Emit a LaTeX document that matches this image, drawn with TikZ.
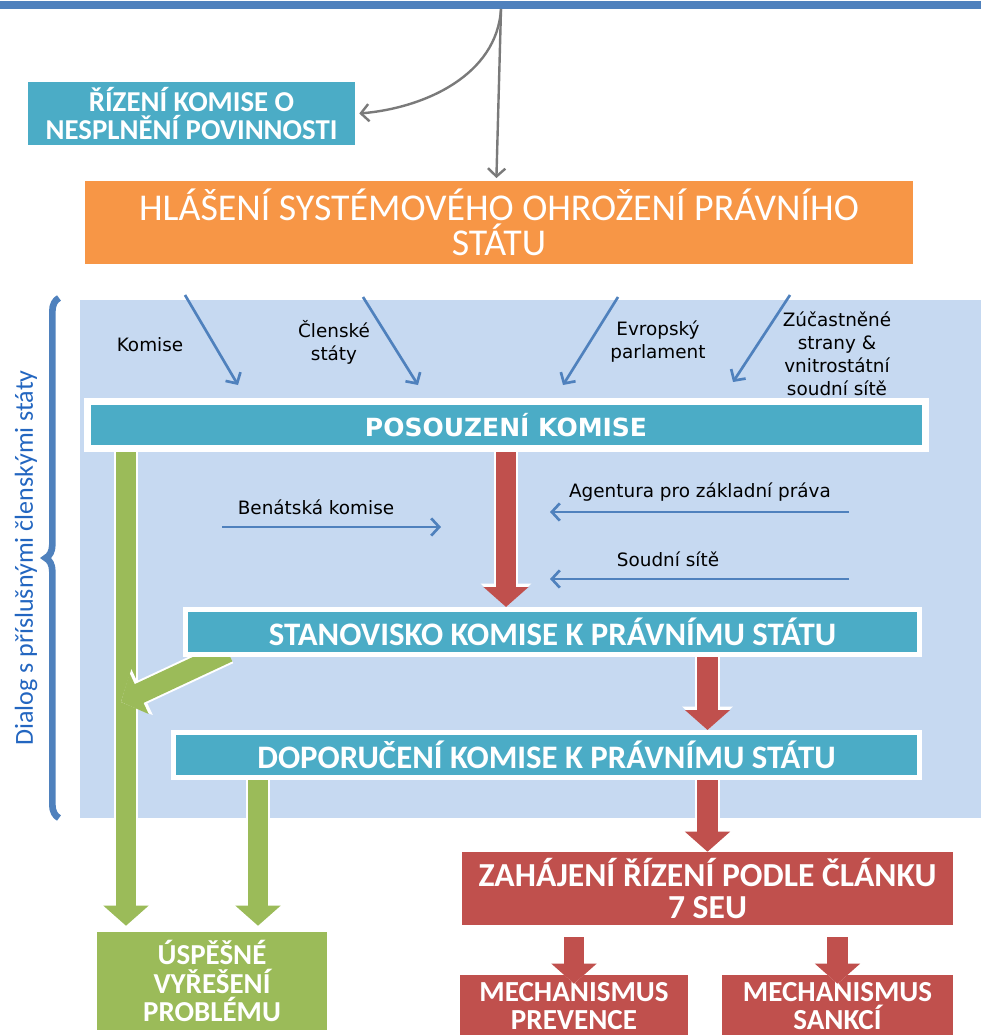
\documentclass[tikz,border=0pt]{standalone}
\usepackage{fontspec}
\setmainfont{Carlito}
\newfontfamily\labelfont{DejaVu Sans}
\usetikzlibrary{arrows.meta,calc,decorations.pathreplacing}

\definecolor{barblue}{HTML}{4F81BD}
\definecolor{boxteal}{HTML}{4BACC6}
\definecolor{boxorange}{HTML}{F79646}
\definecolor{panelblue}{HTML}{C6D9F1}
\definecolor{boxgreen}{HTML}{9BBB59}
\definecolor{boxred}{HTML}{C0504D}
\definecolor{dialogblue}{HTML}{2366C0}
\definecolor{arrowgrey}{HTML}{7A7A7A}

\tikzset{
  flatbox/.style={text=white, inner sep=0pt, align=center},
  framebox/.style={flatbox, fill=boxteal, draw=white, line width=3.75pt},
  infoarrow/.style={draw=barblue, line width=2pt, -{Straight Barb[length=6pt,width=13pt]}},
  greyarrow/.style={draw=arrowgrey, line width=1.8pt, -{Straight Barb[length=6pt,width=13pt]}},
  infolabel/.style={font=\labelfont\fontsize{13.8}{17.3}\selectfont, text=black, align=center, inner sep=0pt},
}
\newcommand\blockarrow[3]{%
  \draw[white, line width=18.5pt, -{Triangle[length=17.5pt,width=37pt]}] (#2) -- (#3);
  \draw[#1, line width=15.5pt, -{Triangle[length=15pt,width=33pt]}] (#2) -- (#3);}

\begin{document}
\begin{tikzpicture}[x=0.75pt,y=-0.75pt]
  \useasboundingbox (0,0) rectangle (981,1035);

  %% top part
  \fill[barblue] (0,1) rectangle (981,9);
  \coordinate (topsrc) at (501,9);

  \node[flatbox, fill=boxteal, minimum width=245.25pt, minimum height=47.25pt,
        font=\bfseries\fontsize{21.6}{21}\selectfont] (rizeni) at (191.5,113.5)
        {ŘÍZENÍ KOMISE O\\NESPLNĚNÍ POVINNOSTI};
  \node[flatbox, fill=boxorange, minimum width=621pt, minimum height=62.25pt,
        font=\fontsize{28.4}{26.25}\selectfont] (hlaseni) at (499,222.5)
        {HLÁŠENÍ SYSTÉMOVÉHO OHROŽENÍ PRÁVNÍHO\\STÁTU};

  \draw[greyarrow, shorten >=2pt] (topsrc) -- ([xshift=-2pt]hlaseni.north);
  \draw[greyarrow] (topsrc) .. controls (497,75) and (425,108) .. ([xshift=3pt]rizeni.east);

  %% dialog panel
  \fill[panelblue] (80,300) rectangle (981,818);
  \draw[barblue, line width=5pt, decorate, decoration={brace, amplitude=10pt}] (59,818) -- (59,298);
  \node[rotate=90, text=dialogblue, font=\fontsize{19.5}{20}\selectfont] (dialog) at (26,558)
        {Dialog s příslušnými členskými státy};

  %% green path
  \coordinate (greenL) at (126,448);
  \coordinate (greenR) at (258,0);
  \coordinate (diagA) at (228,652);
  \coordinate (diagB) at (121,702);

  \node[flatbox, fill=boxgreen, minimum width=172.5pt, minimum height=73.5pt,
        font=\bfseries\fontsize{21.7}{21.5}\selectfont] (uspesne) at (212,981)
        {ÚSPĚŠNÉ\\VYŘEŠENÍ\\PROBLÉMU};

  \blockarrow{boxgreen}{greenL}{$(uspesne.north -| greenL)+(0,-6)$}
  \blockarrow{boxgreen}{diagA}{diagB}

  %% main boxes
  \node[framebox, line width=5.25pt, minimum width=628.5pt, minimum height=35.25pt,
        font=\labelfont\bfseries\fontsize{18.75}{20}\selectfont] (posouzeni) at (506,425)
        {POSOUZENÍ KOMISE};
  \node[framebox, minimum width=550.5pt, minimum height=33.75pt,
        font=\bfseries\fontsize{24.6}{24}\selectfont] (stanovisko) at (552.5,632)
        {STANOVISKO KOMISE K PRÁVNÍMU STÁTU};
  \node[framebox, minimum width=559.9pt, minimum height=33.75pt,
        font=\bfseries\fontsize{24.6}{24}\selectfont] (doporuceni) at (546.5,755)
        {DOPORUČENÍ KOMISE K PRÁVNÍMU STÁTU};

  \node[flatbox, fill=boxred, minimum width=368.25pt, minimum height=54.75pt,
        font=\bfseries\fontsize{25.2}{24}\selectfont] (zahajeni) at (707.5,888.5)
        {ZAHÁJENÍ ŘÍZENÍ PODLE ČLÁNKU\\7 SEU};
  \node[flatbox, fill=boxred, minimum width=171pt, minimum height=46.5pt,
        font=\bfseries\fontsize{21.8}{21}\selectfont] (prevence) at (574,1006)
        {MECHANISMUS\\PREVENCE};
  \node[flatbox, fill=boxred, minimum width=173.25pt, minimum height=46.5pt,
        font=\bfseries\fontsize{21.8}{21}\selectfont] (sankci) at (837.5,1006)
        {MECHANISMUS\\SANKCÍ};

  %% inputs
  \node[infolabel] (lkomise) at (150,345) {Komise};
  \node[infolabel] (lclenske) at (334,342) {Členské\\státy};
  \node[infolabel] (levropsky) at (658,342) {Evropský\\parlament};
  \node[infolabel] (lzucastnene) at (837,354) {Zúčastněné\\strany \&\\vnitrostátní\\soudní sítě};
  \node[infolabel] (lbenatska) at (316,507) {Benátská komise};
  \node[infolabel] (lagentura) at (700,492) {Agentura pro základní práva};
  \node[infolabel] (lsoudni) at (668,559) {Soudní sítě};

  \coordinate (komiseA) at (185,295);   \coordinate (komiseB) at (238,385);
  \coordinate (clenskeA) at (363,297);  \coordinate (clenskeB) at (418,385);
  \coordinate (evropskyA) at (618,297); \coordinate (evropskyB) at (563,385);
  \coordinate (zucastA) at (790,295);   \coordinate (zucastB) at (733,382);
  \coordinate (benatskaA) at (222,527); \coordinate (benatskaB) at (441,527);
  \coordinate (agenturaA) at (849,512); \coordinate (agenturaB) at (550,512);
  \coordinate (soudniA) at (849,579);   \coordinate (soudniB) at (550,579);

  \draw[infoarrow] (komiseA) -- (komiseB);
  \draw[infoarrow] (clenskeA) -- (clenskeB);
  \draw[infoarrow] (evropskyA) -- (evropskyB);
  \draw[infoarrow] (zucastA) -- (zucastB);
  \draw[infoarrow] (benatskaA) -- (benatskaB);
  \draw[infoarrow] (agenturaA) -- (agenturaB);
  \draw[infoarrow] (soudniA) -- (soudniB);

  %% block arrows
  \blockarrow{boxred}{posouzeni.south}{posouzeni.south |- stanovisko.north}
  \blockarrow{boxred}{stanovisko.south -| zahajeni.north}{doporuceni.north -| zahajeni.north}
  \blockarrow{boxred}{doporuceni.south -| zahajeni.north}{zahajeni.north}
  \blockarrow{boxred}{$(zahajeni.south -| prevence.north)+(0,12)$}{$(prevence.north)+(0,9)$}
  \blockarrow{boxred}{$(zahajeni.south -| sankci.north)+(0,12)$}{$(sankci.north)+(0,9)$}
  \blockarrow{boxgreen}{doporuceni.south -| greenR}{$(uspesne.north -| greenR)+(0,-6)$}
\end{tikzpicture}
\end{document}
